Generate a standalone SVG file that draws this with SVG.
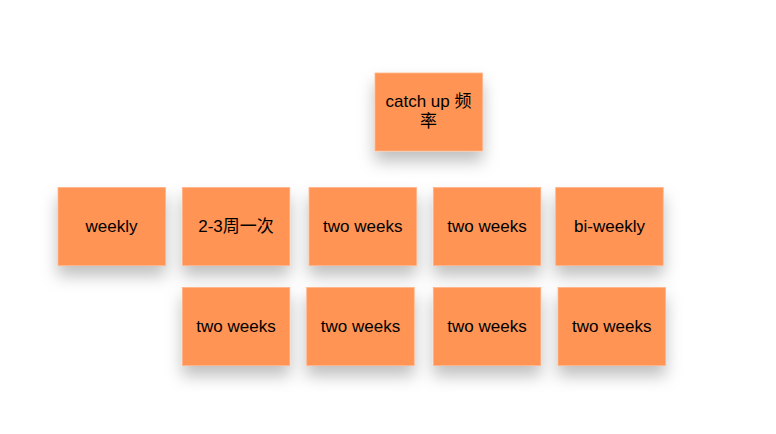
<svg xmlns="http://www.w3.org/2000/svg" width="776" height="434" viewBox="0 0 776 434">
<defs>
<filter id="sh" x="-40%" y="-40%" width="180%" height="200%">
<feDropShadow dx="0" dy="10" stdDeviation="8" flood-color="#000" flood-opacity="0.25"/>
</filter>
<style>
.n{fill:#FF9454;stroke:#FFB48A;stroke-width:0.8;filter:url(#sh)}
.t{font-family:"Liberation Sans","Noto Sans CJK SC",sans-serif;font-size:17px;fill:#000;text-anchor:middle}
</style>
</defs>
<rect width="776" height="434" fill="#fff"/>
<g id="connectors"></g>
<g id="n0"><rect class="n" x="375" y="73" width="107.5" height="78"/><text class="t" x="428.5" y="107">catch up 频</text><text class="t" x="428.5" y="127">率</text></g>
<g id="n1"><rect class="n" x="58" y="187.5" width="107.5" height="78"/><text class="t" x="111.5" y="232">weekly</text></g>
<g id="n2"><rect class="n" x="182.3" y="187.5" width="107.5" height="78"/><text class="t" x="236" y="232">2-3周一次</text></g>
<g id="n3"><rect class="n" x="309" y="187.5" width="107.5" height="78"/><text class="t" x="362.8" y="232">two weeks</text></g>
<g id="n4"><rect class="n" x="433.3" y="187.5" width="107.5" height="78"/><text class="t" x="487" y="232">two weeks</text></g>
<g id="n5"><rect class="n" x="555.7" y="187.5" width="107.5" height="78"/><text class="t" x="609.5" y="232">bi-weekly</text></g>
<g id="n6"><rect class="n" x="182.3" y="287.5" width="107.5" height="78"/><text class="t" x="236" y="332">two weeks</text></g>
<g id="n7"><rect class="n" x="306.7" y="287.5" width="107.5" height="78"/><text class="t" x="360.5" y="332">two weeks</text></g>
<g id="n8"><rect class="n" x="433.3" y="287.5" width="107.5" height="78"/><text class="t" x="487" y="332">two weeks</text></g>
<g id="n9"><rect class="n" x="558" y="287.5" width="107.5" height="78"/><text class="t" x="611.8" y="332">two weeks</text></g>
</svg>
